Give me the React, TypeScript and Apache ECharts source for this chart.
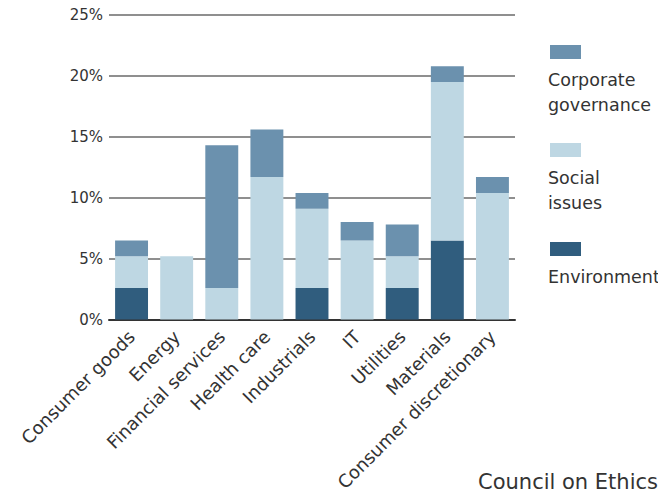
import React, { useEffect, useRef } from "react";
import * as echarts from "echarts";

const categories = [
  "Consumer goods",
  "Energy",
  "Financial services",
  "Health care",
  "Industrials",
  "IT",
  "Utilities",
  "Materials",
  "Consumer discretionary",
];
const environment = [2.6, 0, 0, 0, 2.6, 0, 2.6, 6.5, 0];
const socialIssues = [2.6, 5.2, 2.6, 11.7, 6.5, 6.5, 2.6, 13.0, 10.4];
const corporateGovernance = [1.3, 0, 11.7, 3.9, 1.3, 1.5, 2.6, 1.3, 1.3];
const yTicks = [0, 5, 10, 15, 20, 25];

const COL_GOV = "#6b91ae";
const COL_SOC = "#bed7e3";
const COL_ENV = "#305d7e";
const FONT = "'DejaVu Sans', sans-serif";

export default function App() {
  const ref = useRef<HTMLDivElement>(null);
  useEffect(() => {
    document.body.style.margin = "0";
    document.body.style.overflow = "hidden";
    if (!ref.current) return;
    const chart = echarts.init(ref.current, undefined, { renderer: "svg" });
    const legendItems = [
      { color: COL_GOV, lines: ["Corporate", "governance"], y: 45 },
      { color: COL_SOC, lines: ["Social", "issues"], y: 143 },
      { color: COL_ENV, lines: ["Environment"], y: 242 },
    ];
    const graphic: any[] = [];
    legendItems.forEach((it) => {
      graphic.push({
        type: "rect",
        shape: { x: 550, y: it.y, width: 31, height: 14 },
        style: { fill: it.color },
      });
      it.lines.forEach((ln, i) => {
        graphic.push({
          type: "text",
          x: 548,
          y: it.y + 26 + i * 25,
          style: { text: ln, fill: "#333", font: `17.5px ${FONT}` },
        });
      });
    });
    graphic.push({
      type: "text",
      x: 478,
      y: 471,
      style: { text: "Council on Ethics", fill: "#333", font: `21px ${FONT}` },
    });
    const series = [
      { name: "Environment", data: environment, color: COL_ENV },
      { name: "Social issues", data: socialIssues, color: COL_SOC },
      { name: "Corporate governance", data: corporateGovernance, color: COL_GOV },
    ].map((s) => ({
      name: s.name,
      type: "bar",
      stack: "total",
      data: s.data,
      barCategoryGap: "27%",
      itemStyle: { color: s.color },
    }));
    chart.setOption({
      animation: false,
      grid: { left: 109, right: 143, top: 15, bottom: 174 },
      xAxis: {
        type: "category",
        data: categories,
        axisTick: { show: false },
        axisLine: { show: true, lineStyle: { color: "#333", width: 2 } },
        axisLabel: {
          rotate: 45,
          interval: 0,
          margin: 14,
          color: "#333",
          fontSize: 18,
          fontFamily: FONT,
        },
      },
      yAxis: {
        type: "value",
        min: 0,
        max: 25,
        interval: 5,
        axisLine: { show: false },
        axisTick: { show: false },
        splitLine: { lineStyle: { color: "#6a6a6a", width: 1.5 } },
        axisLabel: {
          formatter: (v: number) => (yTicks.includes(v) ? `${v}%` : ""),
          color: "#333",
          fontSize: 15,
          fontFamily: FONT,
          margin: 6,
        },
      },
      series,
      graphic,
    });
    return () => chart.dispose();
  }, []);
  return <div ref={ref} style={{ width: 658, height: 494 }} />;
}
